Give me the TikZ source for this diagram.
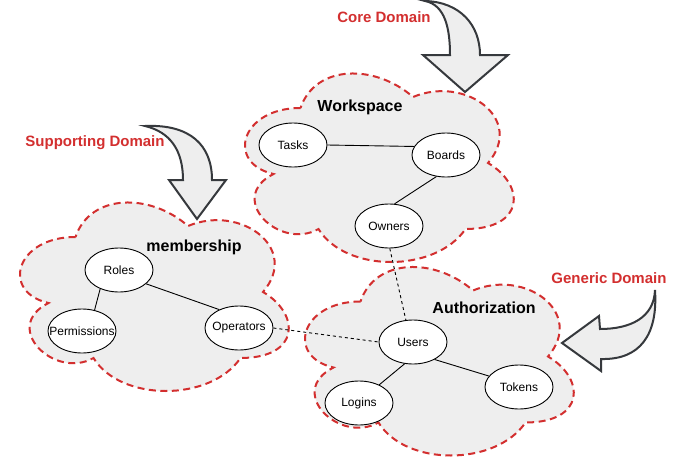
\documentclass[tikz,border=0pt]{standalone}
\usepackage{fontspec}
\setmainfont{Liberation Sans}
\usetikzlibrary{shapes.geometric}
\definecolor{domred}{HTML}{D32F2F}
\definecolor{cloudfill}{HTML}{EEEEEE}
\definecolor{arrowline}{HTML}{36393D}
\newcommand\ctext[1]{\makebox[0pt]{#1}}
\newcommand\dcloud[4]{%
  \path[cloudline, shift={(#1,#2)}, x=#3pt, y=-#4pt]
    (0.25,0.25) .. controls (0.05,0.25) and (0,0.5) .. (0.16,0.55)
    .. controls (0,0.66) and (0.18,0.9) .. (0.31,0.8)
    .. controls (0.4,1) and (0.7,1) .. (0.8,0.8)
    .. controls (1,0.8) and (1,0.6) .. (0.875,0.5)
    .. controls (1,0.3) and (0.8,0.1) .. (0.625,0.2)
    .. controls (0.5,0.05) and (0.3,0.05) .. (0.25,0.25) -- cycle;}
\begin{document}
\begin{tikzpicture}[x=1pt,y=-1pt,
  cloudline/.style={draw=domred, line width=2pt, dash pattern=on 7pt off 4.5pt, fill=cloudfill},
  entity/.style={ellipse, draw=black, line width=0.9pt, fill=white, minimum width=68pt, minimum height=44pt, inner sep=0pt, font=\fontsize{12}{14}\selectfont},
  link/.style={draw=black, line width=0.9pt},
  crossref/.style={draw=black, line width=0.9pt, dash pattern=on 3pt off 3pt},
  cloudtitle/.style={font=\fontsize{16}{19}\selectfont\bfseries, inner sep=0pt},
  domainlabel/.style={font=\fontsize{15}{18}\selectfont\bfseries, text=domred, inner sep=0pt},
  blockarrow/.style={draw=arrowline, line width=2pt, fill=cloudfill, line join=miter}]
\fill[white, use as bounding box] (0,0) rectangle (681,469);

% clouds
\dcloud{225.5}{53}{300}{220}
\dcloud{0.5}{182}{300}{220}
\dcloud{285.5}{246.5}{300}{220}

% block arrows
\path[blockarrow] (425,1) .. controls (445,5) and (450,28) .. (450,55) -- (423,55) -- (465,92) -- (508,55) -- (480,55)
  .. controls (480,25) and (460,2) .. (425,1) -- cycle;
\path[blockarrow] (145,126) .. controls (170,132) and (183,150) .. (183,180) -- (169,180) -- (197,219) -- (226,180) -- (212,180)
  .. controls (212,145) and (190,124) .. (145,126) -- cycle;
\path[blockarrow] (655,290) .. controls (654,318) and (630,329) .. (600,329) -- (599,316) -- (562,343) -- (601,371) -- (601,359)
  .. controls (640,360) and (658,335) .. (655,290) -- cycle;

% titles
\node[cloudtitle] (tws) at (360,107) {Workspace};
\node[cloudtitle] (tms) at (194,247) {membership};
\node[cloudtitle] (tau) at (484,308) {Authorization};

\node[domainlabel] (dcore) at (384,17) {Core Domain};
\node[domainlabel] (dsup) at (95,143) {Supporting Domain};
\node[domainlabel] (dgen) at (609,278) {Generic Domain};

% entities
\node[entity] (tasks) at (293,145) {\ctext{Tasks}};
\node[entity] (boards) at (446,155) {\ctext{Boards}};
\node[entity] (owners) at (389,226) {\ctext{Owners}};
\node[entity] (roles) at (119,270) {\ctext{Roles}};
\node[entity] (perms) at (82,331) {\ctext{Permissions}};
\node[entity] (ops) at (239,328) {\ctext{Operators}};
\node[entity] (users) at (413,342) {\ctext{Users}};
\node[entity] (logins) at (359,403) {\ctext{Logins}};
\node[entity] (tokens) at (519,387) {\ctext{Tokens}};

% links
\draw[link] (tasks.east) -- (boards.165);
\draw[link] (boards.246) -- (owners.76);
\draw[link] (roles.225) -- (perms.59);
\draw[link] (roles.333) -- (ops.137);
\draw[link] (users.249) -- (logins.42);
\draw[link] (users.321) -- (tokens.160);
\draw[crossref] (ops.east) -- (users.west);
\draw[crossref] (owners.272) -- (users.108);
\end{tikzpicture}
\end{document}
